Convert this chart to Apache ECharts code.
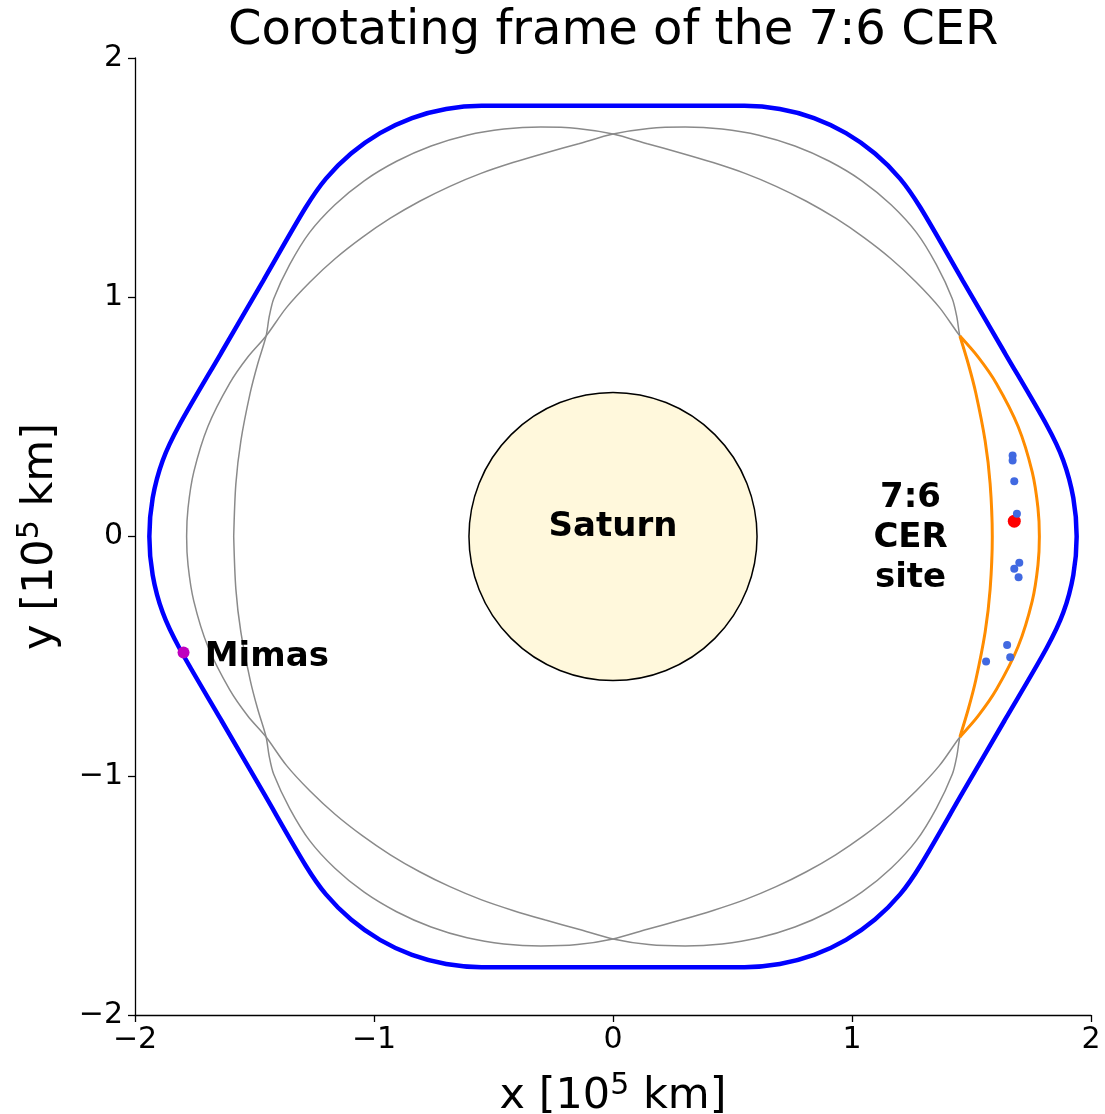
<!DOCTYPE html>
<html>
<head>
<meta charset="utf-8">
<script src="https://cdn.jsdelivr.net/npm/echarts@6/dist/echarts.min.js"></script>
<style>
html,body{margin:0;padding:0;background:#fff;}
#chart{width:1105px;height:1114px;}
</style>
</head>
<body>
<div id="chart"></div>
<script>
// ---- data (units of 10^5 km) ----
const axisTicks = [-2, -1, 0, 1, 2];

const saturn = [[0, 0, 0.6027]]; // centre x, centre y, radius

// Mimas path in the corotating frame (rounded hexagon)
const mimasPath = [
  [0,1.80],[0.275,1.80],[0.55,1.80],[0.698,1.787],[0.841,1.749],[0.975,1.686],[1.096,1.601],[1.201,1.496],[1.286,1.375],
  [1.462,1.072],[1.639,0.768],[1.815,0.465],[1.884,0.318],[1.926,0.161],[1.94,0],
  [1.926,-0.161],[1.884,-0.318],[1.815,-0.465],[1.639,-0.768],[1.462,-1.072],[1.286,-1.375],
  [1.201,-1.496],[1.096,-1.601],[0.975,-1.686],[0.841,-1.749],[0.698,-1.787],[0.55,-1.80],[0.275,-1.80],[0,-1.80],
  [-0.275,-1.80],[-0.55,-1.80],[-0.698,-1.787],[-0.841,-1.749],[-0.975,-1.686],[-1.096,-1.601],[-1.201,-1.496],[-1.286,-1.375],
  [-1.462,-1.072],[-1.639,-0.768],[-1.815,-0.465],[-1.884,-0.318],[-1.926,-0.161],[-1.94,0],
  [-1.926,0.161],[-1.884,0.318],[-1.815,0.465],[-1.639,0.768],[-1.462,1.072],[-1.286,1.375],
  [-1.201,1.496],[-1.096,1.601],[-0.975,1.686],[-0.841,1.749],[-0.698,1.787],[-0.55,1.80],[-0.275,1.80],[0,1.80]
];

// gray separatrix curve A (inner on the left, outer on the right)
const separatrixA = [
  [-1.587,0],[-1.578,0.22],[-1.557,0.40],[-1.518,0.60],[-1.487,0.72],[-1.4515,0.838],
  [-1.4388,0.9166],[-1.4196,0.994],[-1.353,1.136],[-1.27,1.27],[-1.1635,1.3865],[-1.0411,1.4868],[-0.9055,1.5684],[-0.7611,1.6322],[-0.6105,1.6773],[-0.4563,1.7029],[-0.3018,1.7116],[-0.1492,1.7055],[0,1.682],
  [0.1436,1.6417],[0.2827,1.6033],[0.4188,1.5629],[0.5524,1.5177],[0.6825,1.4637],[0.809,1.4012],[0.9315,1.3303],[1.049,1.2502],[1.1618,1.1618],[1.2677,1.0638],[1.3664,0.9567],[1.4515,0.838],
  [1.528,0.75],[1.604,0.64],[1.695,0.46],[1.754,0.27],[1.778,0.12],[1.784,0],[1.778,-0.12],[1.754,-0.27],[1.695,-0.46],[1.604,-0.64],[1.528,-0.75],[1.4515,-0.838],
  [1.3664,-0.9567],[1.2677,-1.0638],[1.1618,-1.1618],[1.049,-1.2502],[0.9315,-1.3303],[0.809,-1.4012],[0.6825,-1.4637],[0.5524,-1.5177],[0.4188,-1.5629],[0.2827,-1.6033],[0.1436,-1.6417],[0,-1.682],
  [-0.1492,-1.7055],[-0.3018,-1.7116],[-0.4563,-1.7029],[-0.6105,-1.6773],[-0.7611,-1.6322],[-0.9055,-1.5684],[-1.0411,-1.4868],[-1.1635,-1.3865],[-1.27,-1.27],[-1.353,-1.136],[-1.4196,-0.994],[-1.4388,-0.9166],[-1.4515,-0.838],
  [-1.487,-0.72],[-1.518,-0.60],[-1.557,-0.40],[-1.578,-0.22],[-1.587,0]
];

// gray separatrix curve B (outer on the left, inner on the right)
const separatrixB = [
  [1.587,0],[1.578,0.22],[1.557,0.40],[1.518,0.60],[1.487,0.72],[1.4515,0.838],
  [1.4388,0.9166],[1.4196,0.994],[1.353,1.136],[1.27,1.27],[1.1635,1.3865],[1.0411,1.4868],[0.9055,1.5684],[0.7611,1.6322],[0.6105,1.6773],[0.4563,1.7029],[0.3018,1.7116],[0.1492,1.7055],[0,1.682],
  [-0.1436,1.6417],[-0.2827,1.6033],[-0.4188,1.5629],[-0.5524,1.5177],[-0.6825,1.4637],[-0.809,1.4012],[-0.9315,1.3303],[-1.049,1.2502],[-1.1618,1.1618],[-1.2677,1.0638],[-1.3664,0.9567],[-1.4515,0.838],
  [-1.528,0.75],[-1.604,0.64],[-1.695,0.46],[-1.754,0.27],[-1.778,0.12],[-1.784,0],[-1.778,-0.12],[-1.754,-0.27],[-1.695,-0.46],[-1.604,-0.64],[-1.528,-0.75],[-1.4515,-0.838],
  [-1.3664,-0.9567],[-1.2677,-1.0638],[-1.1618,-1.1618],[-1.049,-1.2502],[-0.9315,-1.3303],[-0.809,-1.4012],[-0.6825,-1.4637],[-0.5524,-1.5177],[-0.4188,-1.5629],[-0.2827,-1.6033],[-0.1436,-1.6417],[0,-1.682],
  [0.1492,-1.7055],[0.3018,-1.7116],[0.4563,-1.7029],[0.6105,-1.6773],[0.7611,-1.6322],[0.9055,-1.5684],[1.0411,-1.4868],[1.1635,-1.3865],[1.27,-1.27],[1.353,-1.136],[1.4196,-0.994],[1.4388,-0.9166],[1.4515,-0.838],
  [1.487,-0.72],[1.518,-0.60],[1.557,-0.40],[1.578,-0.22],[1.587,0]
];

// highlighted CER site
const siteOuter = [[1.4515,0.838],[1.528,0.75],[1.604,0.64],[1.695,0.46],[1.754,0.27],[1.778,0.12],[1.784,0],[1.778,-0.12],[1.754,-0.27],[1.695,-0.46],[1.604,-0.64],[1.528,-0.75],[1.4515,-0.838]];
const siteInner = [[1.4515,0.838],[1.487,0.72],[1.518,0.60],[1.557,0.40],[1.578,0.22],[1.587,0],[1.578,-0.22],[1.557,-0.40],[1.518,-0.60],[1.487,-0.72],[1.4515,-0.838]];

const arcParticles = [[1.672,0.339],[1.672,0.318],[1.679,0.231],[1.690,0.095],[1.700,-0.110],[1.679,-0.135],[1.697,-0.170],[1.649,-0.453],[1.662,-0.505],[1.561,-0.522]];
const redPoint = [[1.679,0.064]];
const mimas = [[-1.797,-0.485]];

const labels = [
  {name: 'Saturn', value: [0, 0.038]},
  {name: 'Mimas', value: [-1.708, -0.506]},
  {name: '7:6\nCER\nsite', value: [1.245, -0.005]}
];

// ---- chart ----
const chart = echarts.init(document.getElementById('chart'), null, {renderer: 'canvas'});
const FONT = 'DejaVu Sans';
const fmt = v => (v < 0 ? '\u2212' + Math.abs(v) : String(v));

function axisBase(extra) {
  return Object.assign({
    type: 'value', min: axisTicks[0], max: axisTicks[axisTicks.length - 1], interval: 1,
    splitLine: {show: false},
    axisLine: {show: true, onZero: false, lineStyle: {color: '#000', width: 1.3}},
    axisTick: {show: true, inside: false, length: 7, lineStyle: {color: '#000', width: 1.3}},
    nameLocation: 'middle',
    nameTextStyle: {
      color: '#000', fontFamily: FONT, fontSize: 43,
      rich: {n: {fontSize: 43, fontFamily: FONT, color: '#000'}, s: {fontSize: 30, fontFamily: FONT, color: '#000', padding: [0, 0, 22, 0]}}
    }
  }, extra);
}

const option = {
  animation: false,
  backgroundColor: '#fff',
  textStyle: {fontFamily: FONT},
  title: {
    text: 'Corotating frame of the 7:6 CER', left: 223, top: 3,
    textStyle: {fontFamily: FONT, fontWeight: 'normal', fontSize: 48, color: '#000'}
  },
  grid: {left: 135, right: 14, top: 58, bottom: 99, containLabel: false, outerBoundsMode: 'none'},
  xAxis: axisBase({name: '{n|x [10}{s|5}{n| km]}', nameGap: 56,
    axisLabel: {color: '#000', fontSize: 30, fontFamily: FONT, formatter: fmt, margin: 10}}),
  yAxis: axisBase({name: '{n|y [10}{s|5}{n| km]}', nameGap: 68, nameRotate: 90,
    axisLabel: {color: '#000', fontSize: 30, fontFamily: FONT, formatter: fmt, margin: 12}}),
  series: [
    {
      type: 'custom', coordinateSystem: 'cartesian2d', data: saturn, encode: {x: 0, y: 1}, z: 1,
      renderItem: (params, api) => {
        const c = api.coord([api.value(0), api.value(1)]);
        const r = api.size([api.value(2), 0])[0];
        return {type: 'circle', shape: {cx: c[0], cy: c[1], r: r}, style: {fill: '#fff8dc', stroke: '#000', lineWidth: 1.5}};
      }
    },
    {type: 'line', data: separatrixA, smooth: 0.3, symbol: 'none', z: 2, lineStyle: {color: '#8a8a8a', width: 1.5}},
    {type: 'line', data: separatrixB, smooth: 0.3, symbol: 'none', z: 2, lineStyle: {color: '#8a8a8a', width: 1.5}},
    {type: 'line', data: siteOuter, smooth: 0.3, symbol: 'none', z: 3, lineStyle: {color: '#ff8c00', width: 3}},
    {type: 'line', data: siteInner, smooth: 0.3, symbol: 'none', z: 3, lineStyle: {color: '#ff8c00', width: 3}},
    {type: 'line', data: mimasPath, smooth: 0.3, symbol: 'none', z: 4, lineStyle: {color: '#0000ff', width: 4.5}},
    {type: 'scatter', data: redPoint, symbol: 'circle', symbolSize: 13, z: 5, itemStyle: {color: '#ff0000', opacity: 1}},
    {type: 'scatter', data: arcParticles, symbol: 'circle', symbolSize: 8, z: 6, itemStyle: {color: '#4169e1', opacity: 1}},
    {type: 'scatter', data: mimas, symbol: 'circle', symbolSize: 12, z: 7, itemStyle: {color: '#bf00bf', opacity: 1}},
    {
      type: 'scatter', data: labels, symbolSize: 0, z: 8, silent: true, itemStyle: {opacity: 1},
      label: {
        show: true, formatter: p => p.name, opacity: 1,
        position: 'inside', color: '#000', fontFamily: FONT, fontWeight: 'bold', fontSize: 34, lineHeight: 40, align: 'center'
      }
    }
  ]
};
option.series[9].data[1].label = {align: 'left'};
chart.setOption(option);
</script>
</body>
</html>
